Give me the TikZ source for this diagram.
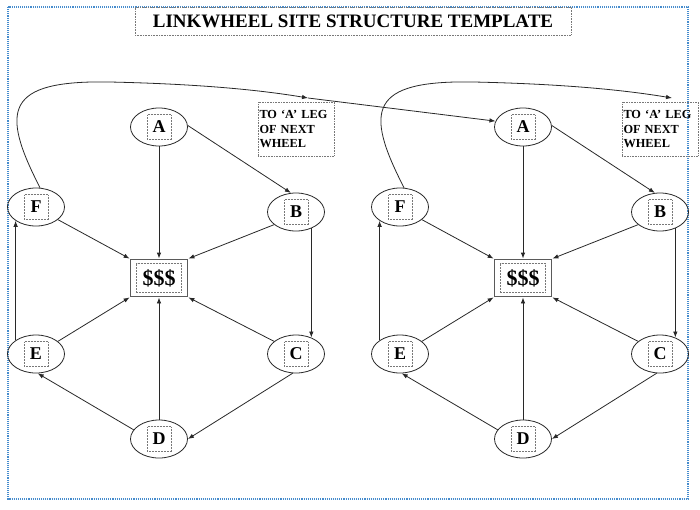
\documentclass[tikz,border=0pt]{standalone}
\usepackage{fontspec}
\setmainfont{Liberation Serif}
\usetikzlibrary{shapes.geometric,arrows.meta}
\definecolor{framecol}{RGB}{70,140,205}
\definecolor{linecol}{RGB}{40,40,40}
\definecolor{dotcol}{RGB}{120,120,120}
\tikzset{
  wnode/.style={ellipse,draw=linecol,line width=0.8pt,minimum width=57pt,minimum height=38pt,inner sep=0pt,
    font=\fontsize{18}{18}\selectfont\bfseries,
    path picture={\draw[dotcol,densely dotted,line width=0.5pt]
      ([xshift=-12pt,yshift=-12.5pt]path picture bounding box.center) rectangle ++(24pt,25pt);}},
  moneybox/.style={rectangle,draw={rgb,255:red,90;green,90;blue,90},line width=1.8pt,minimum width=57pt,minimum height=37pt,inner sep=0pt,
    font=\fontsize{22}{22}\selectfont\bfseries,
    path picture={\draw[dotcol,densely dotted,line width=0.5pt]
      ([xshift=-22.5pt,yshift=-14.5pt]path picture bounding box.center) rectangle ++(45pt,29pt);}},
  notebox/.style={rectangle,draw=dotcol,densely dotted,line width=0.6pt,minimum width=76pt,minimum height=54pt,
    text width=73pt,align=left,inner sep=1.5pt,font=\fontsize{12.3}{14.5}\selectfont\bfseries},
  titlebox/.style={rectangle,draw=dotcol,densely dotted,line width=0.6pt,minimum width=436pt,minimum height=28pt,
    inner sep=0pt,font=\fontsize{19}{19}\selectfont\bfseries},
  arr/.style={draw=linecol,line width=0.8pt,-{Latex[length=6pt,width=4.5pt]}},
  plain/.style={draw=linecol,line width=0.8pt}
}
\begin{document}
\begin{tikzpicture}[x=1pt,y=-1pt]
\useasboundingbox (0,0) rectangle (700,509);
\draw[framecol,densely dotted,line width=1.1pt] (8,7) rectangle (688,499);
\node[titlebox] (title) at (353,21) {LINKWHEEL SITE STRUCTURE TEMPLATE};
\foreach \s/\dx in {1/0,2/364}{
  \begin{scope}[xshift=\dx pt]
    \node[wnode] (A\s) at (159,127) {A};
    \node[wnode] (B\s) at (296,212) {B};
    \node[wnode] (C\s) at (296,354) {C};
    \node[wnode] (D\s) at (159,439) {D};
    \node[wnode] (E\s) at (36,354) {E};
    \node[wnode] (F\s) at (36,207) {F};
    \node[moneybox] (S\s) at (159,278) {\$\$\$};
    \node[notebox] (N\s) at (296,129) {TO ‘A’ LEG\\OF NEXT\\WHEEL};
    \coordinate (T\s) at (308,98);
    \draw[arr] (A\s.3) -- (B\s.105);
    \draw[arr] (A\s.south) -- (S\s.north);
    \draw[arr] (F\s.-30) -- (S\s.north west);
    \draw[arr] (B\s.210) -- (S\s.north east);
    \draw[arr] (B\s.-47) -- (C\s.47);
    \draw[arr] (C\s.150) -- (S\s.south east);
    \draw[arr] (C\s.-100) -- (D\s.east);
    \draw[arr] (D\s.north) -- (S\s.south);
    \draw[arr] (D\s.160) -- (E\s.-85);
    \draw[arr] (E\s.30) -- (S\s.south west);
    \draw[arr] (E\s.146) -- (F\s.214);
    \draw[arr] (F\s.78) .. controls (0,110) and (5,80) .. (110,82)
      .. controls (200,84) and (260,90) .. (T\s);
  \end{scope}
}
\draw[arr] (T1) -- (A2.168);
\end{tikzpicture}
\end{document}
